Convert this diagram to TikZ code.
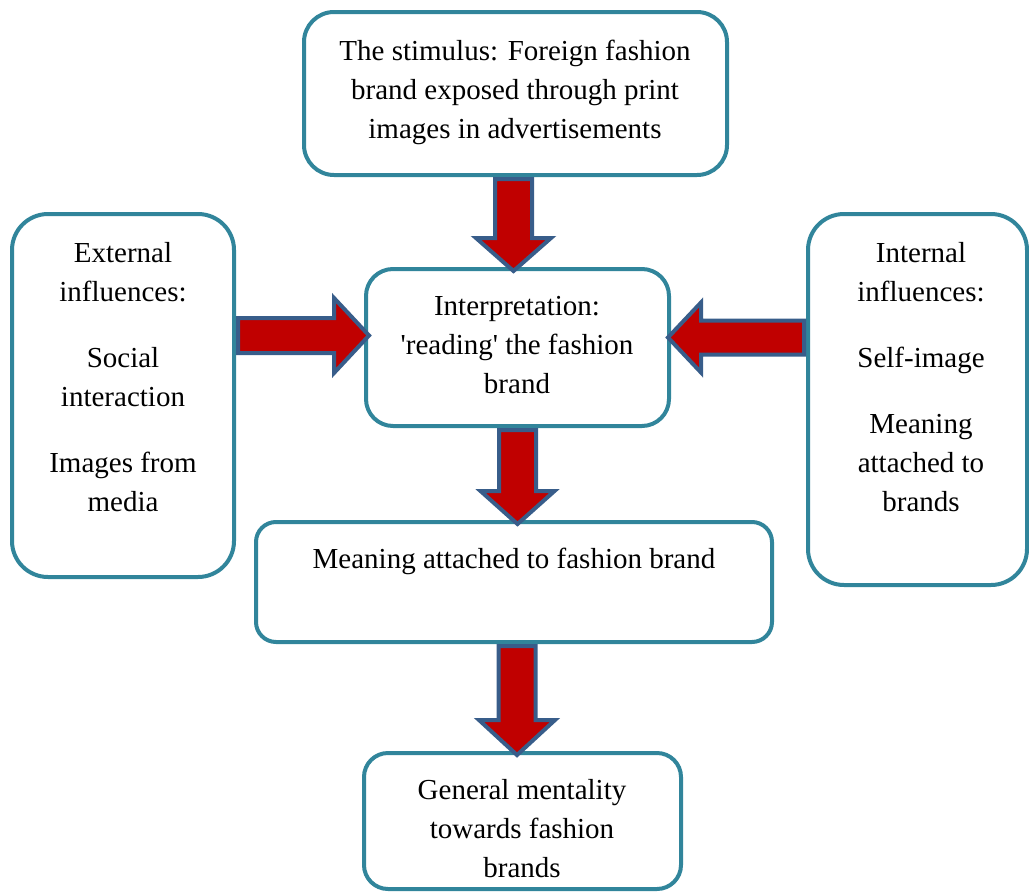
\documentclass[tikz,border=0pt]{standalone}
\usepackage{fontspec}
\setmainfont{Liberation Serif}
\definecolor{boxc}{RGB}{49,133,155}
\definecolor{arrred}{RGB}{192,0,0}
\definecolor{arrblue}{RGB}{56,93,138}
\begin{document}
\begin{tikzpicture}[x=1pt,y=-1pt,
  box/.style={draw=boxc, line width=4pt, fill=white, inner sep=0pt},
  txt/.style={align=center, font=\fontsize{29}{39}\selectfont, inner sep=0pt, text=black},
  barrow/.style={fill=arrred, draw=arrblue, line width=4pt, line join=miter}]
\useasboundingbox (0,0) rectangle (1029,892);

% boxes
\node[box, rounded corners=30pt, minimum width=423pt, minimum height=163pt] (stim) at (515.5,93.5) {};
\node[box, rounded corners=27pt, minimum width=303pt, minimum height=157pt] (interp) at (517.5,347.5) {};
\node[box, rounded corners=36pt, minimum width=222pt, minimum height=363pt] (ext) at (123,395.5) {};
\node[box, rounded corners=36pt, minimum width=219pt, minimum height=371pt] (int) at (917.5,399.5) {};
\node[box, rounded corners=20pt, minimum width=516pt, minimum height=120pt] (mean) at (514,582) {};
\node[box, rounded corners=24pt, minimum width=317pt, minimum height=136pt] (gen) at (522.5,821) {};

% texts
\node[txt] (stimt) at (515,92) {The stimulus: Foreign fashion\\brand exposed through print\\images in advertisements};
\node[txt] (interpt) at (517,345) {Interpretation:\\\textquotesingle reading\textquotesingle{} the fashion\\brand};
\node[txt] (extt) at (123,377.5) {External\\influences:\\[27pt]Social\\interaction\\[27pt]Images from\\media};
\node[txt] (intt) at (921,377.5) {Internal\\influences:\\[27pt]Self-image\\[27pt]Meaning\\attached to\\brands};
\node[txt] (meant) at (514,561) {Meaning attached to fashion brand};
\node[txt] (gent) at (522,829) {General mentality\\towards fashion\\brands};

% block arrows
\draw[barrow, shift={(stim.south)}]
  (-20.5,2) -- (16.5,2) -- (16.5,61) -- (35.5,61) -- (-2,94) -- (-39.5,61) -- (-20.5,61) -- cycle;
\draw[barrow, shift={(ext.east)}]
  (2,-77.5) -- (98,-77.5) -- (98,-97.5) -- (133,-60) -- (98,-22.5) -- (98,-42.5) -- (2,-42.5) -- cycle;
\draw[barrow, shift={(int.west)}]
  (-2,-79) -- (-105,-79) -- (-105,-97) -- (-138,-62) -- (-105,-27) -- (-105,-45) -- (-2,-45) -- cycle;
\draw[barrow, shift={(interp.south)}]
  (-18.5,2) -- (18.5,2) -- (18.5,63) -- (37,63) -- (0,96) -- (-37,63) -- (-18.5,63) -- cycle;
\draw[barrow, shift={(mean.south)}]
  (-15.5,2) -- (21.5,2) -- (21.5,76) -- (41,76) -- (3,111) -- (-35,76) -- (-15.5,76) -- cycle;
\end{tikzpicture}
\end{document}
